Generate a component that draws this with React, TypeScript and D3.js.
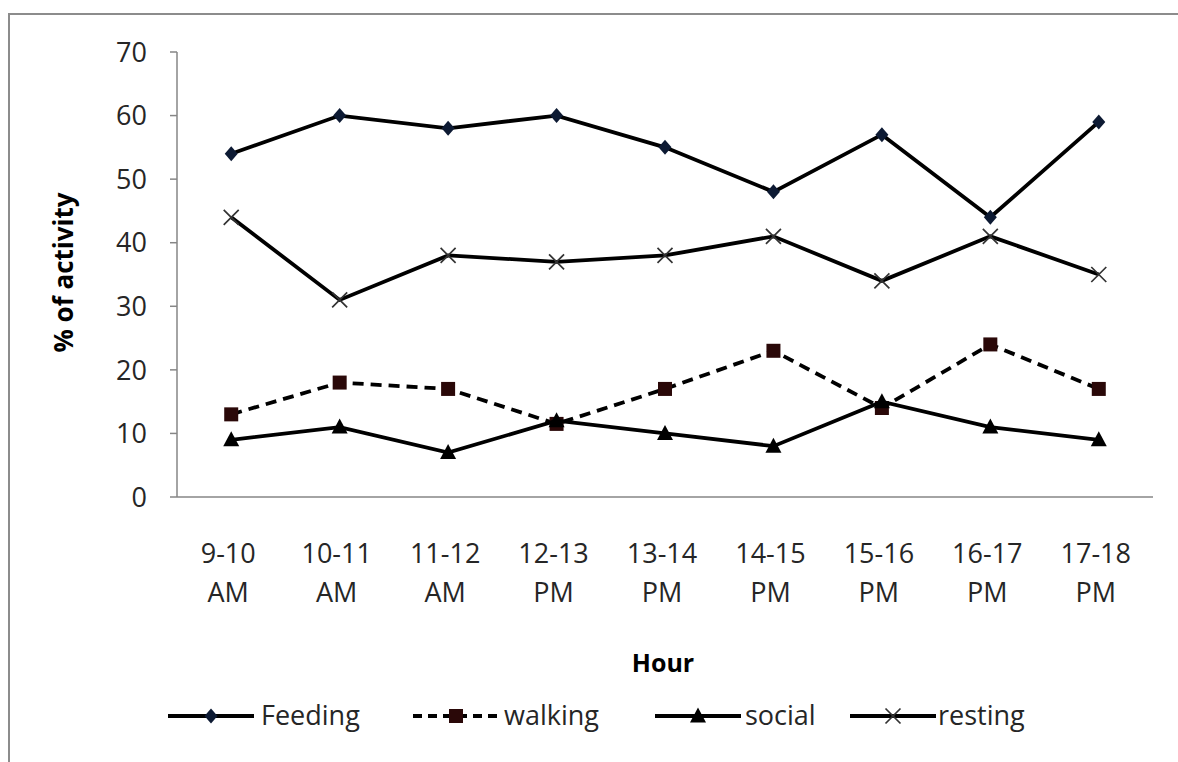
import React from "react";
import * as d3 from "d3";

const hours = ["9-10 AM", "10-11 AM", "11-12 AM", "12-13 PM", "13-14 PM", "14-15 PM", "15-16 PM", "16-17 PM", "17-18 PM"];
const feeding = [54, 60, 58, 60, 55, 48, 57, 44, 59];
const walking = [13, 18, 17, 11.5, 17, 23, 14, 24, 17];
const social = [9, 11, 7, 12, 10, 8, 15, 11, 9];
const resting = [44, 31, 38, 37, 38, 41, 34, 41, 35];
const yTicks = [0, 10, 20, 30, 40, 50, 60, 70];

type Marker = "diamond" | "square" | "triangle" | "cross";

const series: { name: string; values: number[]; marker: Marker; dash?: string; fill: string }[] = [
  { name: "Feeding", values: feeding, marker: "diamond", fill: "#0d1a33" },
  { name: "walking", values: walking, marker: "square", dash: "11,7", fill: "#2a0808" },
  { name: "social", values: social, marker: "triangle", fill: "#000" },
  { name: "resting", values: resting, marker: "cross", fill: "none" },
];

const FONT = "'Open Sans', 'Liberation Sans', sans-serif";

function MarkerShape({ type, x, y, fill }: { type: Marker; x: number; y: number; fill: string }) {
  if (type === "diamond") {
    return <path d={`M${x},${y - 7.5}L${x + 6.5},${y}L${x},${y + 7.5}L${x - 6.5},${y}Z`} fill={fill} />;
  }
  if (type === "square") {
    return <rect x={x - 7} y={y - 7} width={14} height={14} fill={fill} />;
  }
  if (type === "triangle") {
    return <path d={`M${x},${y - 8.5}L${x + 8},${y + 6.5}L${x - 8},${y + 6.5}Z`} fill={fill} />;
  }
  return (
    <path
      d={`M${x - 7.5},${y - 7.5}L${x + 7.5},${y + 7.5}M${x - 7.5},${y + 7.5}L${x + 7.5},${y - 7.5}`}
      stroke="#333"
      strokeWidth={1.7}
      fill="none"
    />
  );
}

export default function App() {
  const width = 1178;
  const height = 762;
  const margin = { left: 177, right: 25, top: 52, bottom: 265 };

  const x = d3.scaleBand<string>().domain(hours).range([margin.left, width - margin.right]);
  const y = d3.scaleLinear().domain([0, 70]).range([height - margin.bottom, margin.top]);
  const cx = (h: string) => (x(h) ?? 0) + x.bandwidth() / 2;

  const line = d3
    .line<number>()
    .x((_, i) => cx(hours[i]))
    .y(d => y(d));

  const legendItems = [
    { x0: 168, tx: 261 },
    { x0: 413, tx: 504 },
    { x0: 655, tx: 745 },
    { x0: 850, tx: 938 },
  ];

  return (
    <svg
      width={width}
      height={height}
      style={{ position: "absolute", left: 0, top: 0, background: "#fff" }}
      fontFamily={FONT}
    >
      <rect x={9} y={14} width={1200} height={800} fill="#fff" stroke="#8c8c8c" strokeWidth={2} />

      {/* y axis */}
      <line x1={margin.left} x2={margin.left} y1={y(70)} y2={y(0)} stroke="#868686" strokeWidth={1.5} />
      {yTicks.map(t => (
        <g key={t}>
          <line x1={margin.left - 7} x2={margin.left} y1={y(t)} y2={y(t)} stroke="#868686" strokeWidth={1.5} />
          <text x={margin.left - 30} y={y(t)} dy="0.36em" textAnchor="end" fontSize={27} fill="#262626">
            {t}
          </text>
        </g>
      ))}

      {/* x axis */}
      <line x1={margin.left} x2={width - margin.right} y1={y(0)} y2={y(0)} stroke="#868686" strokeWidth={1.5} />
      {hours.map(h => {
        const [a, b] = h.split(" ");
        return (
          <text key={h} x={cx(h)} textAnchor="middle" fontSize={27} fill="#262626">
            <tspan x={cx(h) - 3} y={563}>{a}</tspan>
            <tspan x={cx(h) - 3} y={602}>{b}</tspan>
          </text>
        );
      })}

      <text
        transform={`translate(64,${(y(0) + y(70)) / 2 - 2}) rotate(-90)`}
        dy="0.35em"
        textAnchor="middle"
        fontSize={26}
        fontWeight="bold"
        fill="#000"
      >
        % of activity
      </text>
      <text x={663} y={672} textAnchor="middle" fontSize={25} fontWeight="bold" fill="#000">
        Hour
      </text>

      {/* series */}
      {series.map(s => (
        <g key={s.name}>
          <path d={line(s.values) ?? ""} fill="none" stroke="#000" strokeWidth={3.8} strokeDasharray={s.dash} />
          {s.values.map((v, i) => (
            <MarkerShape key={i} type={s.marker} x={cx(hours[i])} y={y(v)} fill={s.fill} />
          ))}
        </g>
      ))}

      {/* legend */}
      {series.map((s, i) => {
        const it = legendItems[i];
        const ly = 716;
        return (
          <g key={s.name}>
            <line x1={it.x0} x2={it.x0 + 86} y1={ly} y2={ly} stroke="#000" strokeWidth={3.8} strokeDasharray={s.dash ? "9,6" : undefined} />
            <MarkerShape type={s.marker} x={it.x0 + 43} y={ly} fill={s.fill} />
            <text x={it.tx} y={ly} dy="0.35em" fontSize={27} fill="#262626">
              {s.name}
            </text>
          </g>
        );
      })}
    </svg>
  );
}
